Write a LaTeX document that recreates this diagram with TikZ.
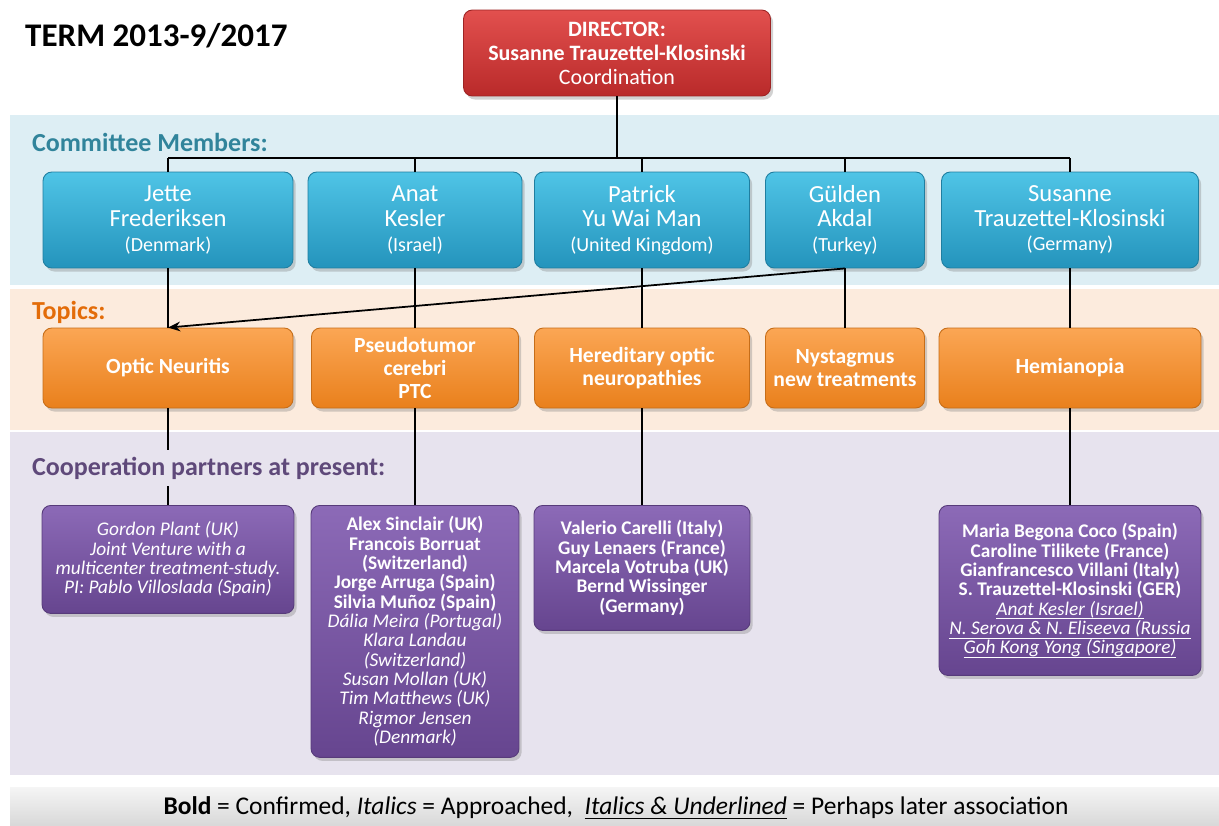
\documentclass[tikz,border=0pt]{standalone}
\usepackage{fontspec}
\setmainfont{Carlito}
\usetikzlibrary{arrows.meta, shadows}

\definecolor{bandblue}{HTML}{DDEEF4}
\definecolor{bandorange}{HTML}{FCEBDD}
\definecolor{bandpurple}{HTML}{E7E3EE}
\definecolor{dirtop}{HTML}{E2504E}
\definecolor{dirbot}{HTML}{B92A2A}
\definecolor{bluetop}{HTML}{4FC4E6}
\definecolor{bluebot}{HTML}{2494BC}
\definecolor{orgtop}{HTML}{FBA654}
\definecolor{orgbot}{HTML}{E9801C}
\definecolor{purtop}{HTML}{8C6AB7}
\definecolor{purbot}{HTML}{66458F}
\definecolor{tealtext}{HTML}{31849B}
\definecolor{orangetext}{HTML}{E36C09}
\definecolor{purpletext}{HTML}{5F497A}

% italic text with a thin underline that keeps the line spacing
\newcommand{\later}[1]{\setbox0=\hbox{\textit{#1}}\rlap{\raisebox{-2.2pt}[0pt][0pt]{\rule{\wd0}{0.5pt}}}\box0\relax}

\begin{document}
\begin{tikzpicture}[x=0.02cm, y=-0.02cm, >={Stealth[length=7pt, width=5.5pt]},
  box/.style={rounded corners=5pt, text=white, align=center, inner sep=2pt, line width=0.5pt,
    drop shadow={opacity=0.35, shadow xshift=1.5pt, shadow yshift=-2pt}},
  director/.style={box, top color=dirtop, bottom color=dirbot, draw=dirbot!85!black,
    minimum width=6.14cm, minimum height=1.72cm, font=\fontsize{12.5}{13.6}\selectfont},
  member/.style={box, top color=bluetop, bottom color=bluebot, draw=bluebot!85!black,
    minimum height=1.92cm, font=\fontsize{14}{14}\selectfont},
  topic/.style={box, top color=orgtop, bottom color=orgbot, draw=orgbot!85!black,
    minimum height=1.6cm, font=\fontsize{12.3}{13}\selectfont\bfseries},
  partner/.style={box, anchor=north, top color=purtop, bottom color=purbot, draw=purbot!85!black,
    font=\fontsize{11}{11}\selectfont},
  heading/.style={anchor=west, inner sep=1pt, font=\fontsize{14.8}{16}\selectfont\bfseries},
  link/.style={line width=1pt}
]
\useasboundingbox (0,0) rectangle (1219,825);
\fill[white] (0,0) rectangle (1219,825);

% Draw the three coloured bands and the legend bar
\fill[bandblue] (10,115) rectangle (1219,285);
\fill[bandorange] (10,289) rectangle (1219,430);
\fill[bandpurple] (10,432) rectangle (1219,775);
\shade[top color=gray!8, bottom color=gray!30] (10,787) rectangle (1219,825);

% Title and director
\node[anchor=west, font=\fontsize{18.8}{20}\selectfont\bfseries] (term) at (19,36) {TERM 2013-9/2017};
\node[director] (dir) at (617,53) {\textbf{DIRECTOR:}\\\textbf{Susanne Trauzettel-Klosinski}\\Coordination};

% Committee members
\node[member, minimum width=5cm] (jette) at (168,220) {Jette\\Frederiksen\\{\fontsize{11.4}{13}\selectfont(Denmark)}};
\node[member, minimum width=4.28cm] (anat) at (415,220) {Anat\\Kesler\\{\fontsize{11.4}{13}\selectfont(Israel)}};
\node[member, minimum width=4.3cm] (patrick) at (642,220) {Patrick\\Yu Wai Man\\{\fontsize{11.4}{13}\selectfont(United Kingdom)}};
\node[member, minimum width=3.18cm] (gulden) at (845,220) {Gülden\\Akdal\\{\fontsize{11.4}{13}\selectfont(Turkey)}};
\node[member, minimum width=5.14cm] (susanne) at (1070,220) {Susanne\\Trauzettel-Klosinski\\{\fontsize{11.4}{13}\selectfont(Germany)}};

% Topics
\node[topic, minimum width=5cm] (optic) at (168,368) {Optic Neuritis};
\node[topic, minimum width=4.14cm] (pseudo) at (415,368) {Pseudotumor\\cerebri\\PTC};
\node[topic, minimum width=4.3cm] (hered) at (642,368) {Hereditary optic\\neuropathies};
\node[topic, minimum width=3.18cm] (nyst) at (845,368) {Nystagmus\\new treatments};
\node[topic, minimum width=5.24cm] (hemi) at (1070,368) {Hemianopia};

% Cooperation partners
\node[partner, minimum width=5.04cm, minimum height=2.16cm] (gordon) at (168,505)
  {\itshape Gordon Plant (UK)\\\itshape Joint Venture with a\\\itshape multicenter treatment-study.\\\itshape PI: Pablo Villoslada (Spain)};
\node[partner, minimum width=4.16cm, minimum height=5.04cm] (alex) at (415,505)
  {\textbf{Alex Sinclair (UK)}\\\textbf{Francois Borruat}\\\textbf{(Switzerland)}\\\textbf{Jorge Arruga (Spain)}\\\textbf{Silvia Muñoz (Spain)}\\
   \textit{Dália Meira (Portugal)}\\\textit{Klara Landau}\\\textit{(Switzerland)}\\\textit{Susan Mollan (UK)}\\\textit{Tim Matthews (UK)}\\\textit{Rigmor Jensen}\\\textit{(Denmark)}};
\node[partner, minimum width=4.32cm, minimum height=2.5cm, font=\fontsize{11}{11}\selectfont\bfseries] (valerio) at (642,505)
  {Valerio Carelli (Italy)\\Guy Lenaers (France)\\Marcela Votruba (UK)\\Bernd Wissinger\\(Germany)};
\node[partner, minimum width=5.24cm, minimum height=3.4cm] (maria) at (1070,505)
  {\textbf{Maria Begona Coco (Spain)}\\\textbf{Caroline Tilikete (France)}\\\textbf{Gianfrancesco Villani (Italy)}\\\textbf{S. Trauzettel-Klosinski (GER)}\\
   \later{Anat Kesler (Israel)}\\\later{N. Serova \& N. Eliseeva (Russia}\\\later{Goh Kong Yong (Singapore)}};

% Connectors from the director down to the members
\coordinate (busL) at (168,158);
\coordinate (busR) at (1070,158);
\draw[link] (busL) -- (busR);
\draw[link] (dir.south) -- (dir.south |- busL);
\foreach \m in {jette, anat, patrick, gulden, susanne}
  \draw[link] (\m.north |- busL) -- (\m.north);

% Members to topics, topics to partners
\draw[link] (jette.south) -- (optic.north);
\draw[link] (anat.south) -- (pseudo.north);
\draw[link] (patrick.south) -- (hered.north);
\draw[link] (gulden.south) -- (nyst.north);
\draw[link] (susanne.south) -- (hemi.north);
\draw[link] (optic.south) -- (gordon.north);
\draw[link] (pseudo.south) -- (alex.north);
\draw[link] (hered.south) -- (valerio.north);
\draw[link] (hemi.south) -- (maria.north);
\draw[link, ->] (gulden.south) -- (optic.north);

% Band headings
\node[heading, text=tealtext] (hmem) at (30,142) {Committee Members:};
\node[heading, text=orangetext] (htop) at (30,312) {Topics:};
\node[heading, text=purpletext, fill=bandpurple, inner ysep=4pt] (hpar) at (30,468) {Cooperation partners at present:};

% Legend
\node[font=\fontsize{14.5}{16}\selectfont] (legend) at (616,808)
  {\textbf{Bold} = Confirmed, \textit{Italics} = Approached,\ \ \later{Italics \& Underlined} = Perhaps later association};

\end{tikzpicture}
\end{document}
